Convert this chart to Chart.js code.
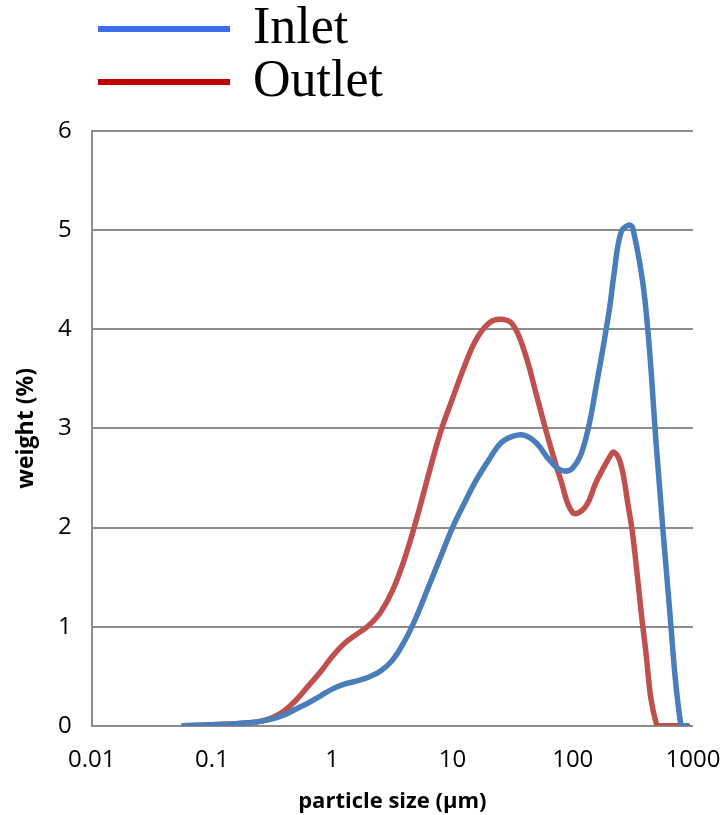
<!DOCTYPE html>
<html><head><meta charset="utf-8">
<script src="https://cdn.jsdelivr.net/npm/chart.js@4"></script>
<style>html,body{margin:0;padding:0;background:#fff}#wrap{width:723px;height:815px;position:relative}</style>
</head><body><div id="wrap"><canvas id="c" width="723" height="815"></canvas></div>
<script>
const sizes = [0.058,0.079,0.1,0.126,0.158,0.2,0.251,0.316,0.398,0.501,0.631,0.794,1,1.26,1.58,2.0,2.51,3.16,3.98,5.01,6.31,7.94,10,12.6,15.8,20,25.1,31.6,39.8,50.1,63.1,79.4,100,126,158,200,220,251,289,316,398,501,631,794,900];
const inlet = [0,0.005,0.01,0.015,0.02,0.03,0.045,0.07,0.11,0.17,0.23,0.3,0.37,0.42,0.45,0.49,0.55,0.66,0.85,1.1,1.4,1.7,2.0,2.25,2.48,2.68,2.85,2.92,2.93,2.85,2.69,2.58,2.6,2.86,3.45,4.17,4.55,4.97,5.05,5.02,4.3,2.75,1.25,0,0];
const outlet = [0,0.005,0.01,0.015,0.02,0.03,0.045,0.08,0.15,0.26,0.4,0.54,0.7,0.83,0.92,1.01,1.14,1.36,1.68,2.08,2.53,2.96,3.3,3.63,3.9,4.06,4.1,4.05,3.77,3.33,2.88,2.48,2.15,2.2,2.47,2.7,2.76,2.64,2.22,1.92,0.83,0,0,0,0];
const seriesNames = ['Inlet','Outlet'];
const lineColors = ['#4a7ebb','#c0504d'];
const legendColors = ['#3d6cf2','#c00000'];
const xTicks = [0.01,0.1,1,10,100,1000];
const yTicks = [0,1,2,3,4,5,6];
const xTitle = 'particle size (µm)';
const yTitle = 'weight (%)';

function pts(vals){ return sizes.map((s,i)=>({x:s,y:vals[i]})); }

const legendPlugin = {
  id:'customLegend',
  afterDraw(chart){
    const ctx = chart.ctx;
    ctx.save();
    const rows = [29, 82];
    seriesNames.forEach((name,i)=>{
      ctx.strokeStyle = legendColors[i];
      ctx.lineWidth = 6;
      ctx.lineCap = 'butt';
      ctx.beginPath(); ctx.moveTo(98, rows[i]); ctx.lineTo(230, rows[i]); ctx.stroke();
      ctx.fillStyle = '#000';
      ctx.font = '52px "Liberation Serif", serif';
      ctx.textBaseline = 'middle';
      ctx.textAlign = 'left';
      ctx.fillText(name, 253, rows[i]);
    });
    ctx.restore();
  }
};

const lineStyle = {borderWidth:5.5, pointRadius:0, tension:0.4, fill:false, borderCapStyle:'round', borderJoinStyle:'round'};

new Chart(document.getElementById('c'), {
  type:'line',
  data:{ datasets:[
    Object.assign({label:seriesNames[0], data:pts(inlet), borderColor:lineColors[0]}, lineStyle),
    Object.assign({label:seriesNames[1], data:pts(outlet), borderColor:lineColors[1]}, lineStyle)
  ]},
  options:{
    responsive:false, animation:false, devicePixelRatio:1,
    layout:{padding:{top:131, right:30, left:7, bottom:0}},
    plugins:{legend:{display:false}, tooltip:{enabled:false}},
    scales:{
      x:{type:'logarithmic', min:0.01, max:1000,
        afterBuildTicks(s){ s.ticks = xTicks.map(v=>({value:v})); },
        ticks:{color:'#000', font:{family:'"Open Sans"', size:24}, padding:2, maxRotation:0, autoSkip:false,
          callback:(v)=>String(v)},
        grid:{display:true, drawOnChartArea:false, drawTicks:true, tickLength:18, tickColor:'rgba(0,0,0,0)'},
        border:{display:false},
        title:{display:true, text:xTitle, color:'#000', font:{family:'"Open Sans"', size:22, weight:'bold'}, padding:{top:12,bottom:0}}
      },
      y:{min:0, max:6,
        afterBuildTicks(s){ s.ticks = yTicks.map(v=>({value:v})); },
        ticks:{color:'#000', font:{family:'"Open Sans"', size:24}, padding:20},
        grid:{color:'#8c8c8c', lineWidth:2, drawTicks:false},
        border:{display:true, color:'#8c8c8c', width:2},
        title:{display:true, text:yTitle, color:'#000', font:{family:'"Open Sans"', size:23, weight:'bold', lineHeight:1.0}, padding:{top:8,bottom:0}}
      }
    }
  },
  plugins:[legendPlugin]
});
</script></body></html>
